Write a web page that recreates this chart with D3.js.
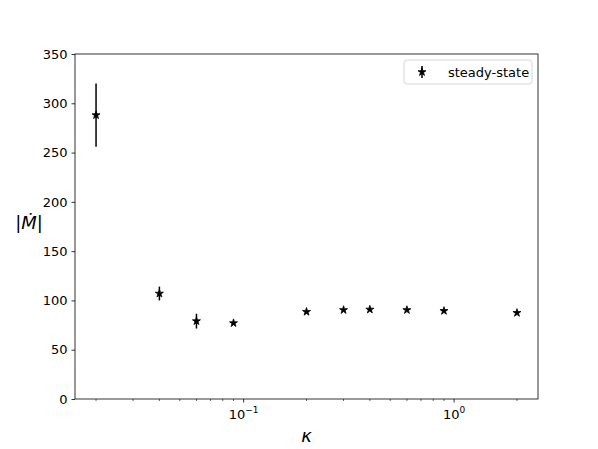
<!DOCTYPE html>
<html>
<head>
<meta charset="utf-8">
<script src="https://cdn.jsdelivr.net/npm/d3@7"></script>
<style>
  body { margin: 0; background: #fff; }
  svg text { font-family: "DejaVu Sans", sans-serif; }
</style>
</head>
<body>
<svg id="chart"></svg>
<script>
// Data
const kappa = [0.02, 0.04, 0.06, 0.09, 0.2, 0.3, 0.4, 0.6, 0.9, 2];
const mdot = [288, 107, 79, 77, 88.5, 90.3, 90.8, 90.3, 89.4, 87.4];
const mdotErr = [32, 7, 7.5, 1.5, 1, 1, 1, 1, 1, 1];
const yTicks = [0, 50, 100, 150, 200, 250, 300, 350];
const xMajorTicks = [0.1, 1];
const seriesLabel = "steady-state";

const width = 598, height = 449;
const margin = { top: 54, right: 60, bottom: 50, left: 75 };
const innerW = 538 - margin.left, innerH = 399 - margin.top;

const svg = d3.select("#chart").attr("width", width).attr("height", height);
const g = svg.append("g").attr("transform", `translate(${margin.left},${margin.top})`);

// log x with matplotlib style 5% margins on log range
const lo = Math.log10(d3.min(kappa)), hi = Math.log10(d3.max(kappa));
const pad = (hi - lo) * 0.05;
const x = d3.scaleLog().domain([Math.pow(10, lo - pad), Math.pow(10, hi + pad)]).range([0, innerW]);
const y = d3.scaleLinear().domain([0, 350]).range([innerH, 0]);

// minor ticks
const minorTicks = [];
[0.01, 0.1, 1].forEach(dec => {
    for (let m = 2; m <= 9; m++) {
        const v = dec * m;
        if (v >= x.domain()[0] && v <= x.domain()[1]) minorTicks.push(v);
    }
});

const xAxis = g.append("g")
    .attr("transform", `translate(0,${innerH})`)
    .call(d3.axisBottom(x).tickValues(xMajorTicks).tickSize(3.5).tickPadding(4).tickFormat(() => ""));
xAxis.selectAll(".tick text").remove();
xAxis.selectAll(".tick").append("text")
    .attr("y", 20).attr("fill", "#000").attr("text-anchor", "middle")
    .style("font-size", "13px")
    .each(function (d) {
        const t = d3.select(this);
        t.append("tspan").text("10");
        t.append("tspan").attr("dy", -6).style("font-size", "9px").text(d === 1 ? "0" : "\u22121");
    });
xAxis.select(".domain").remove();

g.append("g")
    .attr("transform", `translate(0,${innerH})`)
    .selectAll("line").data(minorTicks).enter().append("line")
    .attr("x1", d => x(d)).attr("x2", d => x(d))
    .attr("y1", 0).attr("y2", 2).attr("stroke", "#000").attr("stroke-width", 0.6);

const yAxis = g.append("g")
    .call(d3.axisLeft(y).tickValues(yTicks).tickSize(3.5).tickPadding(4));
yAxis.selectAll("text").style("font-size", "13px").attr("fill", "#000");
yAxis.select(".domain").remove();
svg.selectAll(".tick line").attr("stroke", "#000").attr("stroke-width", 0.8);

// frame
g.append("rect").attr("width", innerW).attr("height", innerH)
    .attr("fill", "none").attr("stroke", "#000").attr("stroke-width", 0.8);

// error bars
g.selectAll(".err").data(kappa).enter().append("line")
    .attr("class", "err")
    .attr("x1", d => x(d)).attr("x2", d => x(d))
    .attr("y1", (d, i) => y(mdot[i] - mdotErr[i]))
    .attr("y2", (d, i) => y(mdot[i] + mdotErr[i]))
    .attr("stroke", "#000").attr("stroke-width", 1.5);

// star markers
const star = d3.symbol().type(d3.symbolStar).size(20);
g.selectAll(".pt").data(kappa).enter().append("path")
    .attr("class", "pt")
    .attr("d", star)
    .attr("transform", (d, i) => `translate(${x(d)},${y(mdot[i])})`)
    .attr("fill", "#000").attr("stroke", "#000").attr("stroke-width", 0.8);

// axis labels
svg.append("text").attr("x", margin.left + innerW / 2).attr("y", 442)
    .attr("text-anchor", "middle").style("font-size", "18px").style("font-style", "italic")
    .text("\u03ba");
const yl = svg.append("text").attr("x", 29).attr("y", 229)
    .attr("text-anchor", "middle").style("font-size", "18px");
yl.append("tspan").text("|");
yl.append("tspan").style("font-style", "italic").text("\u1E40");
yl.append("tspan").text("|");

// legend
const lg = svg.append("g").attr("transform", "translate(404,60)");
lg.append("rect").attr("width", 128).attr("height", 24).attr("rx", 3)
    .attr("fill", "#fff").attr("stroke", "#ccc").attr("stroke-width", 0.8);
lg.append("line").attr("x1", 18).attr("x2", 18).attr("y1", 6).attr("y2", 18)
    .attr("stroke", "#000").attr("stroke-width", 1.5);
lg.append("path").attr("d", star).attr("transform", "translate(18,12)")
    .attr("fill", "#000").attr("stroke", "#000").attr("stroke-width", 0.8);
lg.append("text").attr("x", 44).attr("y", 17).style("font-size", "13px").text(seriesLabel);
</script>
</body>
</html>
